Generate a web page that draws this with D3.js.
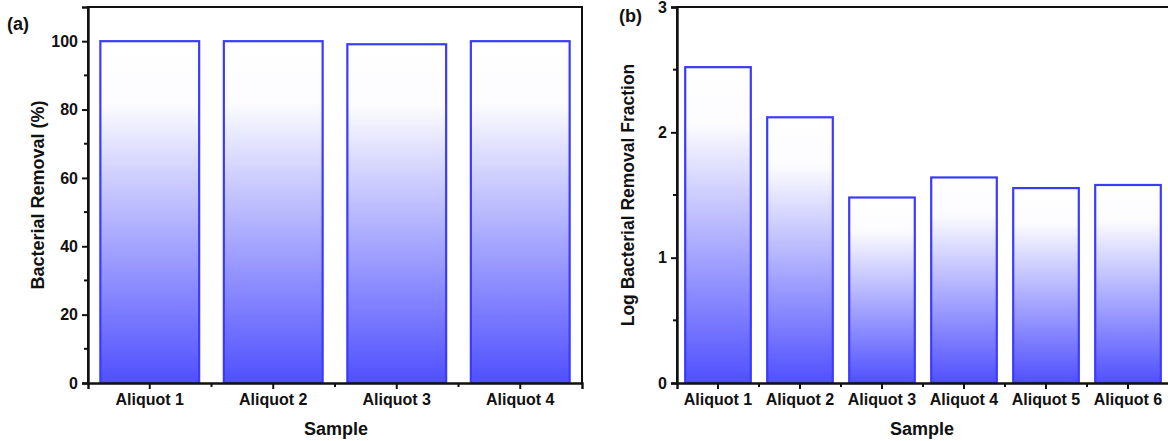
<!DOCTYPE html>
<html>
<head>
<meta charset="utf-8">
<script src="https://cdn.jsdelivr.net/npm/d3@7/dist/d3.min.js"></script>
<style>
body { margin: 0; background: #fff; }
svg text { font-family: "Liberation Sans", Arial, sans-serif; font-weight: bold; fill: #111; }
</style>
</head>
<body>
<script>
// panel (a)
var samplesA = ["Aliquot 1", "Aliquot 2", "Aliquot 3", "Aliquot 4"];
var removalA = [100, 100, 99.1, 100];
var ticksA = [0, 20, 40, 60, 80, 100];

// panel (b)
var samplesB = ["Aliquot 1", "Aliquot 2", "Aliquot 3", "Aliquot 4", "Aliquot 5", "Aliquot 6"];
var logRemovalB = [2.52, 2.12, 1.48, 1.64, 1.555, 1.58];
var ticksB = [0, 1, 2, 3];

var svg = d3.select("body").append("svg")
    .attr("width", 1168).attr("height", 441);

var defs = svg.append("defs");
var grad = defs.append("linearGradient").attr("id", "barfill")
    .attr("x1", 0).attr("y1", 0).attr("x2", 0).attr("y2", 1);
grad.append("stop").attr("offset", "0%").attr("stop-color", "#ffffff");
grad.append("stop").attr("offset", "18%").attr("stop-color", "#fcfcff");
grad.append("stop").attr("offset", "100%").attr("stop-color", "#5050ff");

function drawPanel(opt) {
  var g = svg.append("g");
  var x = d3.scaleBand().domain(opt.cats).range([opt.left, opt.right])
      .paddingInner(0.2).paddingOuter(0.1);
  var y = d3.scaleLinear().domain(opt.domain).range([opt.bottom, opt.top]);

  g.selectAll("rect.bar").data(opt.values)
    .enter().append("rect")
      .attr("class", "bar")
      .attr("x", function(d, i) { return x(opt.cats[i]); })
      .attr("width", x.bandwidth())
      .attr("y", function(d) { return y(d); })
      .attr("height", function(d) { return y(0) - y(d); })
      .style("fill", "url(#barfill)")
      .style("stroke", "#3b3bff")
      .style("stroke-width", 2.2);

  // frame
  g.append("path")
    .attr("d", "M" + opt.left + "," + opt.bottom + "V" + opt.top + "H" + opt.right + "V" + opt.bottom)
    .style("fill", "none").style("stroke", "#111").style("stroke-width", 2);

  var yAxis = d3.axisLeft(y).tickValues(opt.ticks).tickSize(6).tickPadding(4).tickFormat(d3.format("d"));
  var ya = g.append("g").attr("transform", "translate(" + opt.left + ",0)").call(yAxis);
  // minor ticks
  var minors = [];
  for (var i = 0; i < opt.ticks.length - 1; i++) minors.push((opt.ticks[i] + opt.ticks[i + 1]) / 2);
  g.selectAll("line.ymin").data(minors).enter().append("line")
    .attr("x1", opt.left - 4).attr("x2", opt.left)
    .attr("y1", function(d) { return y(d); }).attr("y2", function(d) { return y(d); })
    .style("stroke", "#111").style("stroke-width", 2);

  var xAxis = d3.axisBottom(x).tickSize(6).tickPadding(5);
  var xa = g.append("g").attr("transform", "translate(0," + opt.bottom + ")").call(xAxis);
  var xmin = opt.cats.slice(1).map(function(c) { return x(c) - x.step() * x.paddingInner() / 2; });
  g.selectAll("line.xmin").data(xmin).enter().append("line")
    .attr("x1", function(d) { return d; }).attr("x2", function(d) { return d; })
    .attr("y1", opt.bottom).attr("y2", opt.bottom + 4)
    .style("stroke", "#111").style("stroke-width", 2);

  [ya, xa].forEach(function(a) {
    a.select(".domain").style("stroke", "#111").style("stroke-width", 2.4);
    a.selectAll(".tick line").style("stroke", "#111").style("stroke-width", 2);
    a.selectAll(".tick text").style("font-size", "16px").style("fill", "#111");
  });

  g.append("text")
    .attr("transform", "translate(" + opt.yTitleX + "," + ((opt.top + opt.bottom) / 2) + ") rotate(-90)")
    .attr("text-anchor", "middle")
    .style("font-size", opt.yTitleSize)
    .text(opt.yTitle);
  g.append("text")
    .attr("x", opt.xTitleX).attr("y", 435)
    .attr("text-anchor", "middle")
    .style("font-size", "18px")
    .text("Sample");
  g.append("text")
    .attr("x", opt.labelX).attr("y", opt.labelY)
    .style("font-size", "18px")
    .text(opt.label);
}

drawPanel({
  cats: samplesA, values: removalA, ticks: ticksA, domain: [0, 110],
  left: 88, right: 582, top: 7, bottom: 383,
  yTitle: "Bacterial Removal (%)", yTitleX: 44, yTitleSize: "18px", xTitleX: 336,
  label: "(a)", labelX: 7, labelY: 30
});

drawPanel({
  cats: samplesB, values: logRemovalB, ticks: ticksB, domain: [0, 3],
  left: 677, right: 1169, top: 7, bottom: 383,
  yTitle: "Log Bacterial Removal Fraction", yTitleX: 634, yTitleSize: "17.5px", xTitleX: 922,
  label: "(b)", labelX: 619, labelY: 22
});
</script>
</body>
</html>
